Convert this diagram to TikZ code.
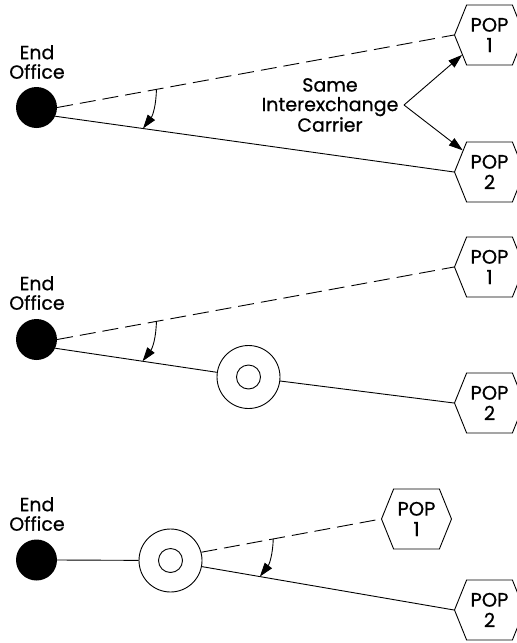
\documentclass[tikz,border=0pt]{standalone}
\usepackage{fontspec}
\setmainfont{Poppins}[FakeBold=0.6]
\usetikzlibrary{arrows.meta,shapes.symbols}
\begin{document}
\begin{tikzpicture}[x=1pt,y=-1pt,
  lbl/.style={font=\fontsize{19}{19.5}\selectfont, align=center, inner sep=0pt},
  eo/.style={circle, fill=black, minimum size=41pt, inner sep=0pt},
  pop/.style={signal, signal to=west and east, signal pointer angle=136, draw, line width=0.9pt,
              minimum width=70pt, minimum height=60pt, inner sep=0pt, align=center,
              font=\fontsize{19.5}{20.5}\selectfont},
  ring/.style={circle, draw, line width=0.9pt, minimum size=63pt, inner sep=0pt},
  ln/.style={line width=0.9pt},
  dsh/.style={ln, dash pattern=on 16pt off 7pt},
  arr/.style={ln, -{Triangle[length=14pt,width=9pt]}}]
\clip (0,0) rectangle (517,643);
\fill[white] (0,0) rectangle (517,643);
% ---------- panel 1
\node[eo] (eo1) at (36.5,107.5) {};
\node[lbl] (t1) at (37,62) {End\\Office};
\node[pop] (p11) at (489.5,35) {POP\\1};
\node[pop] (p12) at (489.5,172) {POP\\2};
\node[lbl] (c1) at (330,105) {Same\\Interexchange\\Carrier};
\coordinate (v1) at (404,105);
\draw[dsh] (eo1.east) -- coordinate[pos=0.25] (a1) (p11.west);
\draw[ln] (eo1.-25) -- coordinate[pos=0.22] (b1) (p12.west);
\draw[arr] (a1) to[bend left=18] (b1);
\draw[arr] (v1) -- (p11.216);
\draw[arr] (v1) -- (p12.141);
% ---------- panel 2
\node[eo] (eo2) at (36.5,339.5) {};
\node[lbl] (t2) at (37,293) {End\\Office};
\node[pop] (p21) at (489.5,267) {POP\\1};
\node[pop] (p22) at (489.5,403) {POP\\2};
\node[ring] (r2) at (248.5,377) {};
\draw[ln] (r2.center) circle[radius=12pt];
\draw[dsh] (eo2.east) -- coordinate[pos=0.25] (a2) (p21.west);
\draw[ln] (eo2.-25) -- coordinate[pos=0.54] (b2) (r2);
\draw[ln] (r2) -- (p22.west);
\draw[arr] (a2) to[bend left=18] (b2);
% ---------- panel 3
\node[eo] (eo3) at (36.5,560) {};
\node[lbl] (t3) at (37,514) {End\\Office};
\node[pop] (p31) at (416.5,519) {POP\\1};
\node[pop] (p32) at (489.5,610) {POP\\2};
\node[ring] (r3) at (170.5,560.5) {};
\draw[ln] (r3.center) circle[radius=12pt];
\draw[ln] (eo3.east) -- (r3);
\draw[dsh] (r3.15) -- coordinate[pos=0.40] (a3) (p31.west);
\draw[ln] (r3.-11) -- coordinate[pos=0.23] (b3) (p32.west);
\draw[arr] (a3) to[bend left=18] (b3);
\end{tikzpicture}
\end{document}
